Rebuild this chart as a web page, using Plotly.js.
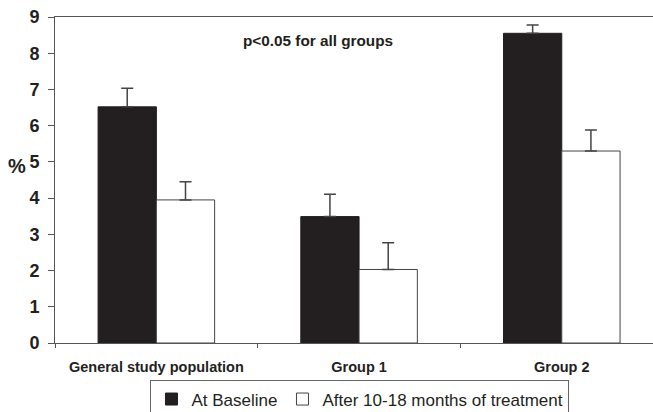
<!DOCTYPE html>
<html>
<head>
<meta charset="utf-8">
<script src="https://cdn.plot.ly/plotly-3.0.1.min.js"></script>
<style>html,body{margin:0;padding:0;background:#fff;overflow:hidden;}#chart{width:653px;height:426px;}</style>
</head>
<body>
<div id="chart"></div>
<script>
const categories = ["General study population", "Group 1", "Group 2"];
const baseline = [6.52, 3.49, 8.55];
const baselineErr = [0.51, 0.62, 0.23];
const after = [3.95, 2.03, 5.30];
const afterErr = [0.50, 0.74, 0.58];
const yTicks = [0, 1, 2, 3, 4, 5, 6, 7, 8, 9];

const FONT = "Liberation Sans, Arial, sans-serif";
const INK = "#231f20";

const traces = [
  {
    type: "bar", name: "At Baseline", x: categories, y: baseline,
    marker: {color: INK, line: {color: INK, width: 1}},
    error_y: {type: "data", array: baselineErr, symmetric: false, arrayminus: [0,0,0], color: "#444", thickness: 1.5, width: 6}
  },
  {
    type: "bar", name: "After 10-18 months of treatment", x: categories, y: after,
    marker: {color: "#ffffff", line: {color: "#444", width: 1}},
    error_y: {type: "data", array: afterErr, symmetric: false, arrayminus: [0,0,0], color: "#444", thickness: 1.5, width: 6}
  }
];

const layout = {
  width: 653, height: 426,
  margin: {l: 55, r: 0, t: 17, b: 83},
  paper_bgcolor: "#fff", plot_bgcolor: "#fff",
  barmode: "group", bargap: 0.425, bargroupgap: 0,
  font: {family: FONT, color: INK},
  showlegend: true,
  legend: {
    orientation: "h", x: 0.51, xanchor: "center", y: -0.115, yanchor: "top",
    bordercolor: "#666", borderwidth: 1, font: {size: 17, family: FONT, color: INK},
    traceorder: "normal"
  },
  xaxis: {
    type: "category", range: [-0.5, 2.45], tickson: "boundaries",
    showline: true, linecolor: "#555", linewidth: 1, mirror: true,
    ticks: "outside", ticklen: 4, tickcolor: "#555",
    tickfont: {size: 14.5, family: FONT, color: INK, weight: "bold"},
    ticklabelstandoff: 11,
    showgrid: false, zeroline: false
  },
  yaxis: {
    range: [0, 9], tickvals: yTicks, ticktext: yTicks.map(String),
    showline: true, linecolor: "#555", linewidth: 1,
    ticks: "outside", ticklen: 6, tickcolor: "#555",
    tickfont: {size: 18, family: FONT, color: INK, weight: "bold"},
    ticklabelstandoff: 5,
    showgrid: false, zeroline: false
  },
  annotations: [
    {
      text: "p<0.05 for all groups", xref: "paper", yref: "paper",
      x: 0.44, y: 0.929, xanchor: "center", yanchor: "middle", showarrow: false,
      font: {size: 15.3, family: FONT, color: INK, weight: "bold"}
    },
    {
      text: "%", xref: "paper", yref: "y",
      x: -0.063, y: 4.9, xanchor: "center", yanchor: "middle", showarrow: false,
      font: {size: 20, family: FONT, color: INK, weight: "bold"}
    }
  ]
};

Plotly.newPlot("chart", traces, layout, {displayModeBar: false, staticPlot: true});
</script>
</body>
</html>
